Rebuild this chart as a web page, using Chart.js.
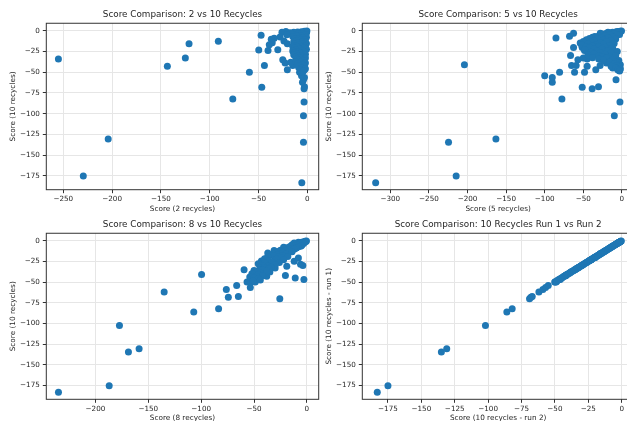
<!DOCTYPE html>
<html>
<head>
<meta charset="utf-8">
<script src="https://cdn.jsdelivr.net/npm/chart.js@4.4.0/dist/chart.umd.min.js"></script>
<style>
html, body { margin: 0; padding: 0; background: #fff; overflow: hidden; }
#wrap { position: relative; width: 627px; height: 421px; overflow: hidden; }
canvas { position: absolute; }
</style>
</head>
<body>
<div id="wrap">
  <canvas id="c1" width="324" height="215" style="left:0;top:0;width:324px;height:215px"></canvas>
  <canvas id="c2" width="327" height="215" style="left:313px;top:0;width:327px;height:215px"></canvas>
  <canvas id="c3" width="324" height="212" style="left:0;top:215px;width:324px;height:212px"></canvas>
  <canvas id="c4" width="327" height="212" style="left:313px;top:215px;width:327px;height:212px"></canvas>
</div>
<script>
// score with 10 recycles (run 1) - shared y values for every panel
const score10Run1 = [
  -183, -175, -134.5, -130.5, -102.5, -86, -82.3, -70, -68.2, -67.4,
  -62, -59, -56.5, -54.3, -50, -50, -50, -47, -47, -45,
  -43, -42, -42, -41, -42, -39, -38, -35, -34, -33,
  -30, -24, -23.2, -23, -20.4, -20.4, -15.7, -15.7, -12.8, -8.8,
  -6.8, -3.2, -5.5,
  -0.3, -0.8, -1.2, -1.5, -2, -2.5, -1, -2, -3, -3.5,
  -4, -4.5, -3, -5, -5, -6, -6.5, -7, -7.5, -8,
  -8.5, -9, -9.5, -10, -10.5, -11, -11.5, -12, -12.5, -13,
  -13.5, -14, -14.5, -15, -15.5, -16, -16.5, -17, -17.5, -18,
  -18.5, -19, -19.5, -20, -20.5, -21, -22, -22.5, -23, -24,
  -24.5, -25, -26, -26.5, -27, -28, -28.5, -29, -30, -30.5,
  -31, -32, -32.5, -33, -34, -35, -35.5, -36, -37, -38,
  -39, -40, -41, -42, -43, -44, -45, -46, -47.5, -48.5
];
const score2 = [
  -5.7, -229.5, -4, -204, -4, -3.4, -76.4, -3.4, -46.7, -3,
  -5, -4, -3, -6, -59.4, -8, -5, -20.5, -3, -8,
  -143.4, -44, -15, -6, -4, -22.8, -17, -25.2, -255, -125,
  -6, -40.3, -49.8, -30.3, -8, -10, -121.2, -20.5, -91.2, -3,
  -10, -12, -47.4,
  -0.5, -3, -6, -10, -14, -18, -22, -26, -1, -5,
  -9, -13, -17, -21, -2, -7, -11, -15, -28, -1,
  -5, -34, -9, -13, -37, -3, -7, -11, -24, -2,
  -14, -6, -36, -10, -1, -13, -5, -39, -8, -12,
  -2, -15, -6, -10, -3, -13, -8, -1, -12, -5,
  -15, -9, -3, -13, -7, -11, -2, -14, -6, -10,
  -4, -12, -8, -2, -11, -6, -9, -3, -12, -7,
  -2, -10, -5, -8, -3, -9, -6, -2, -7, -4
];
const score5 = [
  -319, -214.7, -224.6, -163.2, -9.8, -2.5, -77.7, -38.5, -51.4, -30.3,
  -90.2, -7.6, -90.2, -100, -80.7, -61.3, -48.4, -33.8, -2.5, -11.9,
  -45, -65.2, -59.2, -204, -28.2, -20, -12, -57, -45, -50,
  -66.5, -48.4, -40, -35, -62.6, -51.4, -30, -25, -20, -85.4,
  -67.8, -62.6, -10,
  -0.5, -2, -4, -8, -12, -15, -6, -18, -20, -10,
  -25, -3, -28, -15, -6, -22, -30, -35, -12, -38,
  -18, -26, -42, -8, -32, -46, -24, -14, -36, -50,
  -20, -40, -28, -54, -10, -44, -24, -34, -52, -16,
  -38, -46, -30, -22, -42, -12, -36, -26, -48, -18,
  -32, -6, -40, -28, -14, -36, -22, -44, -8, -30,
  -26, -16, -38, -20, -30, -12, -24, -4, -8, -16,
  -4, -10, -2, -6, -14, -3, -8, -2, -5, -3
];
const score8 = [
  -235, -187, -168.8, -158.7, -177.3, -107, -83.5, -25.6, -74.3, -64.8,
  -135, -76.2, -53.5, -66.4, -56.6, -52.8, -48.8, -2.8, -45, -11,
  -38, -49.7, -20.3, -99.6, -42, -40, -35, -59.4, -37, -30,
  -3.8, -39.3, -30, -25, -30, -22, -20, -18, -15, -10,
  -6, -4, -5,
  -0.4, -1.5, -3, -2, -5, -4, -1, -8, -6, -3,
  -10, -7, -12, -9, -14, -5, -11, -16, -8, -22,
  -19, -10, -15, -22, -12, -18, -25, -31, -20, -27,
  -14, -23, -30, -37, -26, -32, -20, -28, -35, -23,
  -31, -18, -37, -27, -24, -8, -40, -29, -22, -36,
  -43, -12, -33, -26, -40, -46, -6, -30, -42, -37,
  -19, -34, -44, -40, -36, -45, -42, -50, -38, -47,
  -44, -52, -46, -42, -48, -54, -50, -46, -44, -51
];
const score10Run2 = [
  -183, -175, -135, -131, -102, -86, -82, -69, -68, -67,
  -62, -59, -57, -55, -50, -50, -49, -47, -46, -45,
  -43, -42, -42, -41, -42, -39, -38, -35, -34, -33,
  -30, -24, -23, -23, -20, -20, -16, -16, -13, -9,
  -7, -3, -5.5,
  -0.3, -0.8, -1.2, -1.5, -2, -2.5, -1, -2, -3, -3.5,
  -4, -4.5, -3, -5, -5, -6, -6.5, -7, -7.5, -8,
  -8.5, -9, -9.5, -10, -10.5, -11, -11.5, -12, -12.5, -13,
  -13.5, -14, -14.5, -15, -15.5, -16, -16.5, -17, -17.5, -18,
  -18.5, -19, -19.5, -20, -20.5, -21, -22, -22.5, -23, -24,
  -24.5, -25, -26, -26.5, -27, -28, -28.5, -29, -30, -30.5,
  -31, -32, -32.5, -33, -34, -35, -35.5, -36, -37, -38,
  -39, -40, -41, -42, -43, -44, -45, -46, -47.5, -48.5
];

// tick labels
const yTicks = [-175, -150, -125, -100, -75, -50, -25, 0];
const xTicks2 = [-250, -200, -150, -100, -50, 0];
const xTicks5 = [-300, -250, -200, -150, -100, -50, 0];
const xTicks8 = [-200, -150, -100, -50, 0];
const xTicksRun2 = [-175, -150, -125, -100, -75, -50, -25, 0];

const FONT = 'DejaVu Sans';
const TEXT = '#262626';

const spines = {
  id: 'spines',
  afterDatasetsDraw(chart) {
    const a = chart.chartArea, c = chart.ctx;
    c.save();
    c.strokeStyle = '#333';
    c.lineWidth = 1;
    c.strokeRect(a.left, a.top, a.right - a.left, a.bottom - a.top);
    c.restore();
  }
};

function fmt(v) {
  return v < 0 ? '\u2212' + (-v) : String(v);
}

function makeChart(id, xs, o) {
  const pts = xs.map((x, i) => ({ x: x, y: score10Run1[i] }));
  return new Chart(document.getElementById(id), {
    type: 'scatter',
    data: {
      datasets: [{
        data: pts,
        backgroundColor: '#1f77b4',
        borderWidth: 0,
        pointRadius: 3.5,
        pointHoverRadius: 3.5
      }]
    },
    options: {
      responsive: false,
      animation: false,
      devicePixelRatio: 1,
      layout: { padding: { left: 0, right: o.padRight, top: 0, bottom: 0 } },
      plugins: {
        legend: { display: false },
        tooltip: { enabled: false },
        title: {
          display: true,
          text: o.title,
          fullSize: false,
          color: TEXT,
          font: { family: FONT, size: 8.8, weight: 'normal', lineHeight: 1.2 },
          padding: { top: o.titleTop, bottom: 3.0 }
        }
      },
      scales: {
        x: {
          type: 'linear',
          min: o.xMin,
          max: o.xMax,
          afterFit: s => { s.height = o.xHeight; },
          afterBuildTicks: s => { s.ticks = o.xTicks.map(v => ({ value: v })); },
          ticks: {
            color: TEXT,
            padding: 2,
            maxRotation: 0,
            font: { family: FONT, size: 7.2 },
            callback: fmt
          },
          grid: { color: '#e6e6e6', lineWidth: 1, tickLength: 3.5, tickColor: '#333' },
          border: { display: false },
          title: {
            display: true,
            text: o.xLabel,
            color: TEXT,
            font: { family: FONT, size: 7.3, lineHeight: 1.2 },
            padding: { top: 0, bottom: o.xTitlePad }
          }
        },
        y: {
          type: 'linear',
          min: -191.5,
          max: 8.9,
          afterFit: s => { s.width = o.yWidth; },
          afterBuildTicks: s => { s.ticks = yTicks.map(v => ({ value: v })); },
          ticks: {
            color: TEXT,
            padding: 3,
            font: { family: FONT, size: 7.2 },
            callback: fmt
          },
          grid: { color: '#e6e6e6', lineWidth: 1, tickLength: 3.5, tickColor: '#333' },
          border: { display: false },
          title: {
            display: true,
            text: o.yLabel,
            color: TEXT,
            font: { family: FONT, size: 7.3, lineHeight: 1.2 },
            padding: { top: o.yTitlePad, bottom: 0 }
          }
        }
      }
    },
    plugins: [spines]
  });
}

makeChart('c1', score2, {
  title: 'Score Comparison: 2 vs 10 Recycles',
  xLabel: 'Score (2 recycles)', yLabel: 'Score (10 recycles)',
  xMin: -267.4, xMax: 11.6, xTicks: xTicks2,
  padRight: 5.3, yWidth: 46.3, xHeight: 25.3,
  titleTop: 9.7, xTitlePad: 1.6, yTitlePad: 8.9
});
makeChart('c2', score5, {
  title: 'Score Comparison: 5 vs 10 Recycles',
  xLabel: 'Score (5 recycles)', yLabel: 'Score (10 recycles)',
  xMin: -336.3, xMax: 15.7, xTicks: xTicks5,
  padRight: 6, yWidth: 49.3, xHeight: 25.3,
  titleTop: 9.7, xTitlePad: 1.6, yTitlePad: 11.6
});
makeChart('c3', score8, {
  title: 'Score Comparison: 8 vs 10 Recycles',
  xLabel: 'Score (8 recycles)', yLabel: 'Score (10 recycles)',
  xMin: -246.5, xMax: 11.2, xTicks: xTicks8,
  padRight: 5.3, yWidth: 46.3, xHeight: 27.7,
  titleTop: 4.7, xTitlePad: 4.3, yTitlePad: 8.9
});
makeChart('c4', score10Run2, {
  title: 'Score Comparison: 10 Recycles Run 1 vs Run 2',
  xLabel: 'Score (10 recycles - run 2)', yLabel: 'Score (10 recycles - run 1)',
  xMin: -194.2, xMax: 9.2, xTicks: xTicksRun2,
  padRight: 6, yWidth: 49.3, xHeight: 27.7,
  titleTop: 4.7, xTitlePad: 4.3, yTitlePad: 11.3
});
</script>
</body>
</html>
